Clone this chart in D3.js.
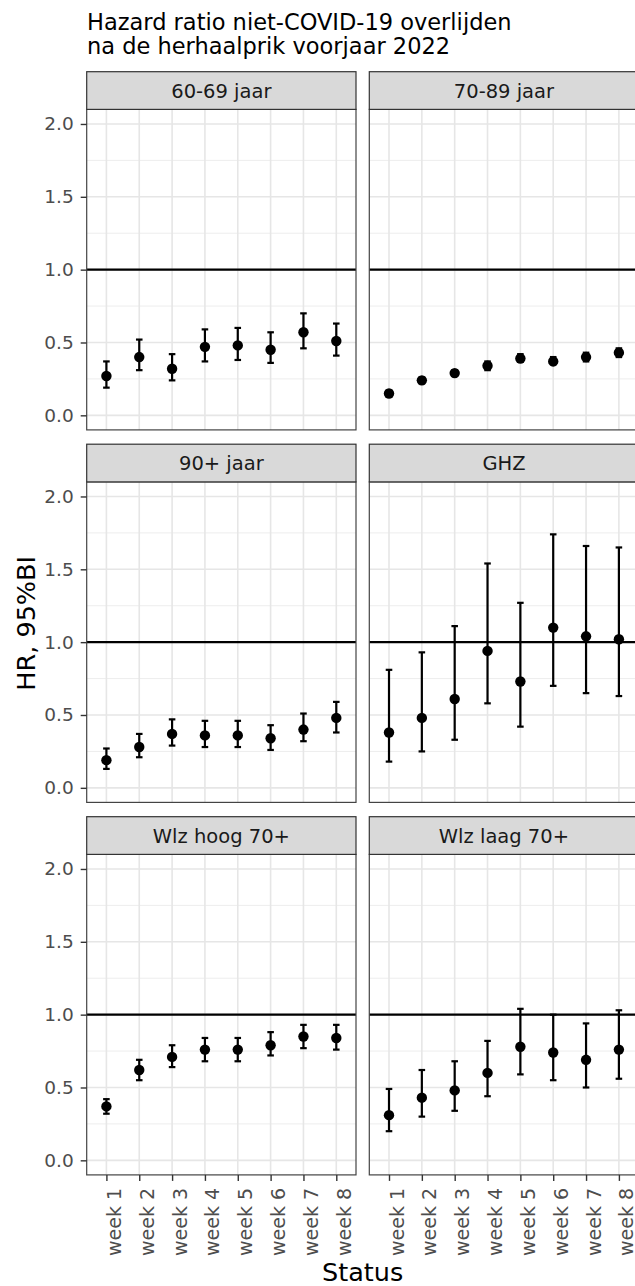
<!DOCTYPE html>
<html>
<head>
<meta charset="utf-8">
<script src="https://cdn.jsdelivr.net/npm/d3@7"></script>
<style>
  body { margin: 0; background: #fff; }
  svg text { font-family: "DejaVu Sans", sans-serif; }
</style>
</head>
<body>
<div id="chart"></div>
<script>
// chart values
const weeks = ["week 1", "week 2", "week 3", "week 4", "week 5", "week 6", "week 7", "week 8"];
const groups = ["60-69 jaar", "70-89 jaar", "90+ jaar", "GHZ", "Wlz hoog 70+", "Wlz laag 70+"];

const hrEst = [
    [0.27, 0.40, 0.32, 0.47, 0.48, 0.45, 0.57, 0.51],
    [0.15, 0.24, 0.29, 0.34, 0.39, 0.37, 0.40, 0.43],
    [0.19, 0.28, 0.37, 0.36, 0.36, 0.34, 0.40, 0.48],
    [0.38, 0.48, 0.61, 0.94, 0.73, 1.10, 1.04, 1.02],
    [0.37, 0.62, 0.71, 0.76, 0.76, 0.79, 0.85, 0.84],
    [0.31, 0.43, 0.48, 0.60, 0.78, 0.74, 0.69, 0.76]
];
const ciLower = [
    [0.19, 0.31, 0.24, 0.37, 0.38, 0.36, 0.46, 0.41],
    [0.13, 0.22, 0.27, 0.31, 0.37, 0.35, 0.37, 0.40],
    [0.13, 0.21, 0.29, 0.28, 0.28, 0.26, 0.32, 0.38],
    [0.18, 0.25, 0.33, 0.58, 0.42, 0.70, 0.65, 0.63],
    [0.32, 0.55, 0.64, 0.68, 0.68, 0.72, 0.77, 0.76],
    [0.20, 0.30, 0.34, 0.44, 0.59, 0.55, 0.50, 0.56]
];
const ciUpper = [
    [0.37, 0.52, 0.42, 0.59, 0.60, 0.57, 0.70, 0.63],
    [0.17, 0.26, 0.31, 0.37, 0.42, 0.40, 0.43, 0.46],
    [0.27, 0.37, 0.47, 0.46, 0.46, 0.43, 0.51, 0.59],
    [0.81, 0.93, 1.11, 1.54, 1.27, 1.74, 1.66, 1.65],
    [0.42, 0.69, 0.79, 0.84, 0.84, 0.88, 0.93, 0.93],
    [0.49, 0.62, 0.68, 0.82, 1.04, 1.00, 0.94, 1.03]
];
const yTicks = [0, 0.5, 1, 1.5, 2];
const yMinor = [0.25, 0.75, 1.25, 1.75];
const refLine = 1;

const width = 635, height = 1286;
const colLeft = [86.7, 369.3];
const panelW = 269.3;
const firstStrip = 71.7, rowStep = 372.5, stripH = 37.7, panelH = 320.5;

const svg = d3.select("#chart")
    .append("svg")
    .attr("width", width)
    .attr("height", height);

// title
const title = svg.append("text")
    .attr("x", 87)
    .attr("font-size", 22.5)
    .attr("fill", "#000");
title.append("tspan").attr("x", 87).attr("y", 30).text("Hazard ratio niet-COVID-19 overlijden");
title.append("tspan").attr("x", 87).attr("y", 54).text("na de herhaalprik voorjaar 2022");

groups.forEach(function (g, i) {
    var col = i % 2, row = Math.floor(i / 2);
    var left = colLeft[col];
    var stripTop = firstStrip + row * rowStep;
    var top = stripTop + stripH;

    var x = d3.scalePoint()
        .domain(weeks)
        .range([left, left + panelW])
        .padding(0.6);
    var y = d3.scaleLinear()
        .domain([-0.1, 2.1])
        .range([top + panelH, top]);

    var panel = svg.append("g").attr("class", "panel");

    panel.append("rect")
        .attr("x", left).attr("y", top)
        .attr("width", panelW).attr("height", panelH)
        .attr("fill", "#fff");

    // grid
    panel.selectAll(".minor")
        .data(yMinor)
        .enter().append("line")
        .attr("x1", left).attr("x2", left + panelW)
        .attr("y1", d => y(d)).attr("y2", d => y(d))
        .attr("stroke", "#EDEDED").attr("stroke-width", 1);
    panel.selectAll(".major")
        .data(yTicks)
        .enter().append("line")
        .attr("x1", left).attr("x2", left + panelW)
        .attr("y1", d => y(d)).attr("y2", d => y(d))
        .attr("stroke", "#E6E6E6").attr("stroke-width", 1.6);
    panel.selectAll(".vgrid")
        .data(weeks)
        .enter().append("line")
        .attr("x1", d => x(d)).attr("x2", d => x(d))
        .attr("y1", top).attr("y2", top + panelH)
        .attr("stroke", "#E6E6E6").attr("stroke-width", 1.6);

    // reference line at HR = 1
    panel.append("line")
        .attr("x1", left).attr("x2", left + panelW)
        .attr("y1", y(refLine)).attr("y2", y(refLine))
        .attr("stroke", "#000").attr("stroke-width", 2.2);

    var rows = weeks.map(function (w, k) {
        return { week: w, hr: hrEst[i][k], lo: ciLower[i][k], hi: ciUpper[i][k] };
    });

    var capW = x.step() * 0.1;
    var bars = panel.selectAll(".err")
        .data(rows)
        .enter().append("g")
        .attr("stroke", "#000").attr("stroke-width", 2.2);
    bars.append("line")
        .attr("x1", d => x(d.week)).attr("x2", d => x(d.week))
        .attr("y1", d => y(d.lo)).attr("y2", d => y(d.hi));
    bars.append("line")
        .attr("x1", d => x(d.week) - capW).attr("x2", d => x(d.week) + capW)
        .attr("y1", d => y(d.lo)).attr("y2", d => y(d.lo));
    bars.append("line")
        .attr("x1", d => x(d.week) - capW).attr("x2", d => x(d.week) + capW)
        .attr("y1", d => y(d.hi)).attr("y2", d => y(d.hi));

    panel.selectAll(".pt")
        .data(rows)
        .enter().append("circle")
        .attr("cx", d => x(d.week))
        .attr("cy", d => y(d.hr))
        .attr("r", 5.2)
        .attr("fill", "#000");

    // border
    panel.append("rect")
        .attr("x", left).attr("y", top)
        .attr("width", panelW).attr("height", panelH)
        .attr("fill", "none")
        .attr("stroke", "#444").attr("stroke-width", 1.2);

    // strip
    panel.append("rect")
        .attr("x", left).attr("y", stripTop)
        .attr("width", panelW).attr("height", stripH)
        .attr("fill", "#D9D9D9")
        .attr("stroke", "#333").attr("stroke-width", 1.2);
    panel.append("text")
        .attr("x", left + panelW / 2)
        .attr("y", stripTop + stripH / 2)
        .attr("dy", "0.36em")
        .attr("text-anchor", "middle")
        .attr("font-size", 19.5)
        .attr("fill", "#1A1A1A")
        .text(g);

    // axes
    if (col === 0) {
        var ya = panel.append("g")
            .attr("transform", "translate(" + left + ",0)")
            .call(d3.axisLeft(y).tickValues(yTicks).tickFormat(d3.format(".1f")).tickSize(6).tickPadding(7));
        ya.select(".domain").remove();
        ya.selectAll("line").attr("stroke", "#333").attr("stroke-width", 1.4);
        ya.selectAll("text").attr("font-size", 18.5).attr("fill", "#4D4D4D");
    }
    if (row === 2) {
        var xa = panel.append("g")
            .attr("transform", "translate(0," + (top + panelH) + ")")
            .call(d3.axisBottom(x).tickSize(6));
        xa.select(".domain").remove();
        xa.selectAll("line").attr("stroke", "#333").attr("stroke-width", 1.4);
        xa.selectAll("text")
            .attr("font-size", 19)
            .attr("fill", "#4D4D4D")
            .attr("text-anchor", "end")
            .attr("dy", null)
            .attr("y", null)
            .attr("transform", "translate(14,13) rotate(-90)");
    }
});

// axis titles
svg.append("text")
    .attr("x", (colLeft[0] + colLeft[1] + panelW) / 2)
    .attr("y", 1281)
    .attr("text-anchor", "middle")
    .attr("font-size", 25.5)
    .attr("fill", "#000")
    .text("Status");

svg.append("text")
    .attr("transform", "translate(35," + ((firstStrip + 2 * rowStep + stripH + panelH + firstStrip) / 2) + ") rotate(-90)")
    .attr("text-anchor", "middle")
    .attr("font-size", 25.5)
    .attr("fill", "#000")
    .text("HR, 95%BI");
</script>
</body>
</html>
